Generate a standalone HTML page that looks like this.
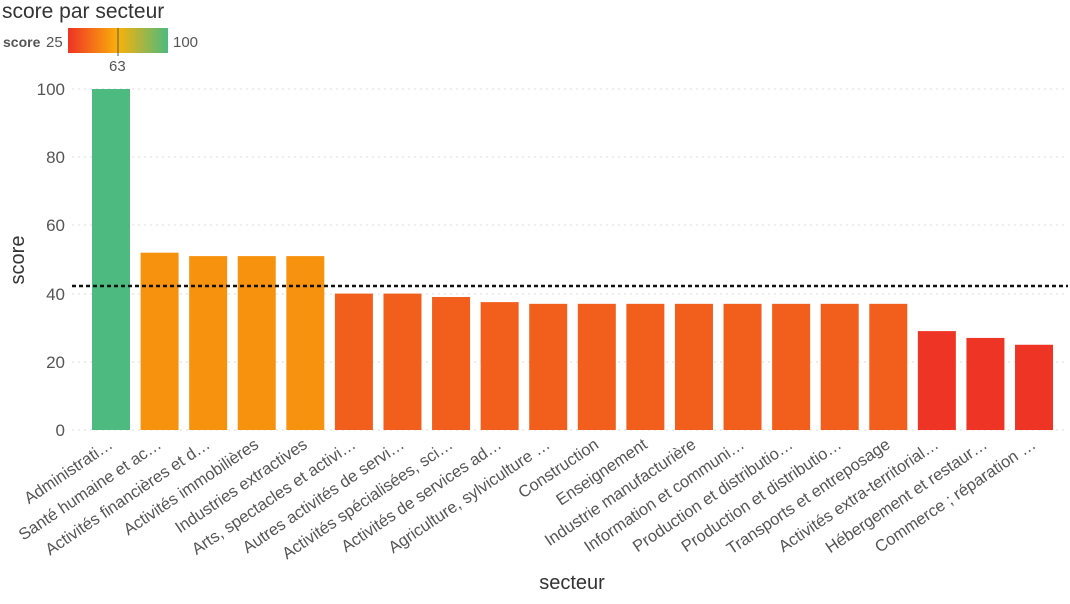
<!DOCTYPE html>
<html><head><meta charset="utf-8"><style>
body{margin:0;background:#fff;}
svg text{font-family:"Liberation Sans",sans-serif;}
</style></head><body>
<svg width="1070" height="599" xmlns="http://www.w3.org/2000/svg">
<defs><linearGradient id="g" x1="0" x2="1"><stop offset="0" stop-color="#ee3324"/><stop offset="0.5" stop-color="#f9b10a"/><stop offset="1" stop-color="#4dba7f"/></linearGradient></defs>
<text x="2" y="18" font-size="21" fill="#333">score par secteur</text>
<text x="3" y="47" font-size="14" font-weight="bold" fill="#555">score</text>
<text x="46" y="47" font-size="15" fill="#555">25</text>
<rect x="68" y="28" width="100" height="25" fill="url(#g)"/>
<line x1="118" y1="28" x2="118" y2="56" stroke="#555" stroke-width="1"/>
<text x="109" y="71" font-size="15" fill="#555">63</text>
<text x="173" y="47" font-size="15" fill="#555">100</text>
<g stroke="#ddd" stroke-dasharray="2,4" stroke-width="1">
<line x1="72" x2="1068" y1="430" y2="430"/><line x1="72" x2="1068" y1="362" y2="362"/><line x1="72" x2="1068" y1="294" y2="294"/><line x1="72" x2="1068" y1="225" y2="225"/><line x1="72" x2="1068" y1="157" y2="157"/><line x1="72" x2="1068" y1="89" y2="89"/>
</g>
<g font-size="17" fill="#555" text-anchor="end">
<text x="65" y="436">0</text><text x="65" y="368">20</text><text x="65" y="300">40</text><text x="65" y="231">60</text><text x="65" y="163">80</text><text x="65" y="95">100</text>
</g>
<text transform="translate(24,260) rotate(-90)" font-size="20" fill="#333" text-anchor="middle">score</text>
<text x="572" y="589" font-size="20" fill="#333" text-anchor="middle">secteur</text>
<g id="bars"></g>
<line x1="72" x2="1068" y1="286" y2="286" stroke="#111" stroke-width="2.5" stroke-dasharray="4,3"/>
<g id="labels" font-size="16.5" fill="#555" text-anchor="end"></g>
<script>
var d=[["Administrati…",100],["Santé humaine et ac…",52],["Activités financières et d…",51],["Activités immobilières",51],["Industries extractives",51],["Arts, spectacles et activi…",40],["Autres activités de servi…",40],["Activités spécialisées, sci…",39],["Activités de services ad…",37.5],["Agriculture, sylviculture …",37],["Construction",37],["Enseignement",37],["Industrie manufacturière",37],["Information et communi…",37],["Production et distributio…",37],["Production et distributio…",37],["Transports et entreposage",37],["Activités extra-territorial…",29],["Hébergement et restaur…",27],["Commerce ; réparation …",25]];
var b=document.getElementById("bars"),l=document.getElementById("labels"),ns="http://www.w3.org/2000/svg";
d.forEach(function(v,i){var x=92+i*48.58,h=v[1]*3.41;
var c=v[1]>=90?"#4dba7f":v[1]>=50?"#f7920f":v[1]>=35?"#f25f1c":"#ee3525";
var r=document.createElementNS(ns,"rect");r.setAttribute("x",x);r.setAttribute("y",430-h);r.setAttribute("width",38);r.setAttribute("height",h);r.setAttribute("fill",c);b.appendChild(r);
var t=document.createElementNS(ns,"text");t.setAttribute("transform","translate("+(x+22)+",447) rotate(-34)");t.textContent=v[0];l.appendChild(t);});
</script>
</svg>
</body></html>
